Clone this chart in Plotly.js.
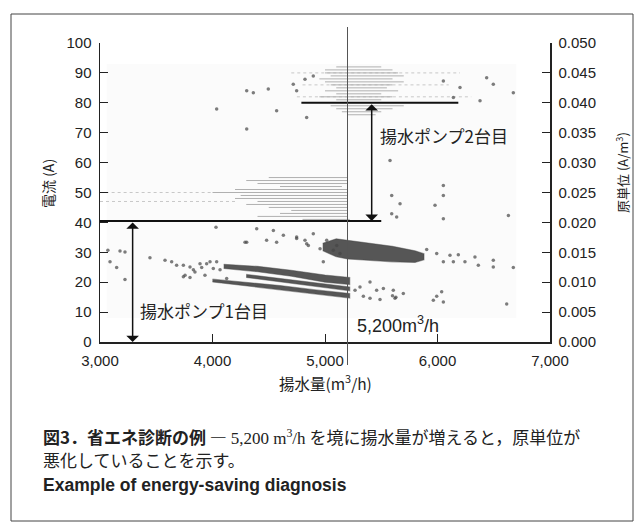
<!DOCTYPE html>
<html>
<head>
<meta charset="utf-8">
<script src="https://cdn.plot.ly/plotly-3.0.1.min.js"></script>
<style>
html,body{margin:0;padding:0;background:#fff;}
#chart{width:643px;height:530px;}
</style>
</head>
<body>
<div id="chart"></div>
<script>
// ---- data ----
// quantised current readings (light hatched rows), lower group (1 pump)
const stripeLowY     = [41, 42, 43, 44, 45, 46, 47, 48, 49, 50, 51, 52, 53, 54, 55];
const stripeLowStart = [4800, 4400, 4600, 4700, 4500, 4300, 4400, 4200, 4250, 4000, 4200, 4600, 4400, 4300, 4500];
const stripeLowEnd   = [5220, 5200, 5200, 5200, 5200, 5200, 5200, 5200, 5200, 5200, 5200, 5150, 5200, 5200, 5200];
// upper group (2 pumps)
const stripeHighY     = [76, 77, 78, 79, 81, 82, 83, 84, 85, 86, 87, 88, 89, 90, 91, 92];
const stripeHighStart = [5200, 5150, 5100, 5050, 5100, 4950, 5100, 5000, 5100, 5050, 5000, 4950, 5050, 5000, 5000, 5100];
const stripeHighEnd   = [5450, 5500, 5600, 5700, 5500, 5600, 5500, 5650, 5550, 5600, 5700, 5600, 5700, 5650, 5600, 5500];
// sparse (dotted) rows
const sparseRowY     = [47, 50, 82, 86, 90];
const sparseRowStart = [3000, 3050, 4750, 4800, 4700];
const sparseRowEnd   = [4200, 4000, 6300, 6100, 6200];

// dense specific-consumption bands (envelopes of the point clouds)
const bandTopX   = [4100, 4400, 4700, 5000, 5220];
const bandTopHi  = [26.0, 25.3, 24.0, 22.4, 21.6];
const bandTopLo  = [24.6, 23.5, 22.0, 20.0, 19.2];
const bandMidX   = [4300, 4600, 4900, 5220];
const bandMidHi  = [22.6, 21.3, 19.8, 18.4];
const bandMidLo  = [21.6, 20.2, 18.7, 17.1];
const bandBotX   = [4000, 4300, 4600, 4900, 5220];
const bandBotHi  = [21.0, 20.0, 18.9, 17.5, 16.2];
const bandBotLo  = [20.1, 18.9, 17.6, 16.1, 14.7];
const bandUpX    = [4980, 5100, 5200, 5400, 5600, 5800, 5880];
const bandUpHi   = [33.0, 34.5, 34.0, 33.0, 32.0, 30.5, 29.5];
const bandUpLo   = [30.5, 28.5, 27.8, 27.2, 26.8, 26.6, 27.5];

// individual scattered readings
const pointX = [3070,3178,3222,3089,3148,3222,3444,3578,3637,3681,3741,3800,3830,3904,3948,4037,4067,4126,4304,4393,4541,4570,4748,4822,4852,4896,4031,
  3741,3800,3844,3889,3933,3978,4007,3756,
  4630,4748,4837,4956,5015,5074,5104,5133,4985,4481,4289,
  5904,5993,6111,6185,6244,6333,6363,6496,6496,6674,6141,6052,
  5311,5400,5459,5519,5607,5622,5696,5400,5341,5489,5963,5993,6037,6052,6615,5267,5600,5630,
  5593,5593,5637,5978,6052,6052,6630,5667,6052,5578,
  4304,4363,4496,4570,4037,4304,4748,4837,4822,4896,4718,
  6674,6496,6378,6141,6052,6200,6437];
const pointY = [30.7,30.4,30.1,26.8,24.9,20.9,28.2,27.3,26.8,25.7,21.8,21.6,24.2,24.9,26.2,26.8,24.2,21.2,33.4,37.9,37.3,33.4,35.1,34.0,32.3,36.2,38.4,
  25.7,25.1,23.4,26.2,22.3,26.8,24.6,22.3,
  35.7,34.6,32.9,31.2,34.0,30.7,32.3,29.6,26.8,34.0,33.4,
  30.9,29.6,29.0,29.2,26.8,28.4,25.7,27.3,25.1,24.9,26.8,26.8,
  18.4,20.1,17.3,17.9,17.3,14.6,16.2,14.6,15.3,14.2,14.0,15.3,16.8,13.4,12.7,17.3,15.5,15.0,
  49.0,42.9,41.8,45.7,49.0,41.2,42.3,46.2,52.3,60.7,
  84.0,83.4,84.6,77.3,77.9,71.2,84.0,75.1,87.9,89.0,86.2,
  83.4,86.2,80.7,81.8,87.3,85.1,88.4];

// axis ticks
const leftTicks  = [0,10,20,30,40,50,60,70,80,90,100];
const rightTicks = [0,0.005,0.010,0.015,0.020,0.025,0.030,0.035,0.040,0.045,0.050];
const xTicks     = [3000,4000,5000,6000,7000];

// ---- build traces ----
function rows(ys, xs0, xs1) {
  const x = [], y = [];
  for (let i = 0; i < ys.length; i++) {
    x.push(xs0[i], xs1[i], null);
    y.push(ys[i], ys[i], null);
  }
  return {x, y};
}
function band(xs, hi, lo) {
  return {x: xs.concat(xs.slice().reverse()), y: hi.concat(lo.slice().reverse())};
}
const traces = [];
const sr = rows(sparseRowY, sparseRowStart, sparseRowEnd);
traces.push({x: sr.x, y: sr.y, mode: 'lines', line: {color: '#c8c8c8', width: 1, dash: 'dot'}, hoverinfo: 'skip', showlegend: false});
const lo = rows(stripeLowY, stripeLowStart, stripeLowEnd);
traces.push({x: lo.x, y: lo.y, mode: 'lines', line: {color: '#b0b0b0', width: 1}, hoverinfo: 'skip', showlegend: false});
const hi = rows(stripeHighY, stripeHighStart, stripeHighEnd);
traces.push({x: hi.x, y: hi.y, mode: 'lines', line: {color: '#b0b0b0', width: 1}, hoverinfo: 'skip', showlegend: false});
[[bandTopX, bandTopHi, bandTopLo], [bandMidX, bandMidHi, bandMidLo], [bandBotX, bandBotHi, bandBotLo], [bandUpX, bandUpHi, bandUpLo]].forEach(b => {
  const p = band(b[0], b[1], b[2]);
  traces.push({x: p.x, y: p.y, mode: 'lines', fill: 'toself', fillcolor: 'rgba(45,45,45,0.8)', line: {color: 'rgba(70,70,70,0.45)', width: 1.2}, hoverinfo: 'skip', showlegend: false});
});
traces.push({x: pointX, y: pointY, mode: 'markers', marker: {color: 'rgba(70,70,70,0.7)', size: 3.5}, hoverinfo: 'skip', showlegend: false});
traces.push({x: [3000], y: [0], yaxis: 'y2', mode: 'markers', marker: {opacity: 0}, hoverinfo: 'skip', showlegend: false});

// ---- layout ----
const L = 100, R = 550, T = 43, B = 342;
const px = p => (p - L) / (R - L);
const py = p => (B - p) / (B - T);
const tickFont = {family: 'Liberation Sans, Arial, sans-serif', size: 15, color: '#222'};
const jp = 'Noto Sans CJK JP, sans-serif';
const axCommon = {ticks: 'inside', ticklen: 8, tickcolor: '#222', tickwidth: 1, showline: true, linecolor: '#222', linewidth: 1.5,
  showgrid: false, zeroline: false, tickfont: tickFont, ticklabelstandoff: 4};

const layout = {
  width: 643, height: 530,
  margin: {l: L, r: 643 - R, t: T, b: 530 - B},
  paper_bgcolor: '#fff', plot_bgcolor: 'rgba(0,0,0,0)',
  showlegend: false,
  xaxis: Object.assign({range: [3000, 7000], tickvals: xTicks, ticktext: xTicks.map(v => v.toLocaleString('en-US'))}, axCommon),
  yaxis: Object.assign({range: [0, 100], tickvals: leftTicks}, axCommon),
  yaxis2: Object.assign({range: [0, 0.05], overlaying: 'y', side: 'right', tickvals: rightTicks, ticktext: rightTicks.map(v => v.toFixed(3))}, axCommon),
  shapes: [
    {type: 'rect', layer: 'below', xref: 'x', yref: 'y', x0: 3060, x1: 6700, y0: 8, y1: 93, fillcolor: '#fbfbfb', line: {width: 0}},
    {type: 'line', xref: 'x', yref: 'y', x0: 3000, x1: 5500, y0: 40.5, y1: 40.5, line: {color: '#111', width: 2}},
    {type: 'line', xref: 'x', yref: 'y', x0: 4790, x1: 6185, y0: 80, y1: 80, line: {color: '#111', width: 2}},
    {type: 'line', xref: 'x', yref: 'paper', x0: 5200, x1: 5200, y0: py(365), y1: py(27), line: {color: '#555', width: 1}},
    {type: 'rect', xref: 'paper', yref: 'paper', x0: px(11), x1: px(633), y0: py(521), y1: py(14), line: {color: '#444', width: 1}}
  ],
  annotations: [
    {x: 3290, y: 0, ax: 3290, ay: 40.5, axref: 'x', ayref: 'y', xref: 'x', yref: 'y', text: '', showarrow: true,
      arrowside: 'end+start', arrowhead: 1, arrowsize: 1.4, arrowwidth: 1.5, arrowcolor: '#111', standoff: 0, startstandoff: 0},
    {x: 5415, y: 40.5, ax: 5415, ay: 80, axref: 'x', ayref: 'y', xref: 'x', yref: 'y', text: '', showarrow: true,
      arrowside: 'end+start', arrowhead: 1, arrowsize: 1.4, arrowwidth: 1.5, arrowcolor: '#111', standoff: 0, startstandoff: 0},
    {x: 3338, y: 10.7, xref: 'x', yref: 'y', xanchor: 'left', yanchor: 'middle', showarrow: false,
      text: '揚水ポンプ1台目', font: {family: jp, size: 17, color: '#222'}},
    {x: 5471, y: 69, xref: 'x', yref: 'y', xanchor: 'left', yanchor: 'middle', showarrow: false,
      text: '揚水ポンプ2台目', font: {family: jp, size: 17, color: '#222'}},
    {x: 5267, y: 6, xref: 'x', yref: 'y', xanchor: 'left', yanchor: 'middle', showarrow: false,
      text: '5,200m<sup>3</sup>/h', font: {family: 'Liberation Sans, Arial, sans-serif', size: 18, color: '#222'}},
    {x: px(325), y: py(382), xref: 'paper', yref: 'paper', xanchor: 'center', yanchor: 'middle', showarrow: false,
      text: '揚水量(m<sup>3</sup>/h)', font: {family: jp, size: 15.5, color: '#222'}},
    {x: px(48), y: py(184), xref: 'paper', yref: 'paper', xanchor: 'center', yanchor: 'middle', showarrow: false, textangle: -90,
      text: '電流 (A)', font: {family: jp, size: 14, color: '#222'}},
    {x: px(622), y: py(173), xref: 'paper', yref: 'paper', xanchor: 'center', yanchor: 'middle', showarrow: false, textangle: -90,
      text: '原単位 (A/m<sup>3</sup>)', font: {family: jp, size: 13, color: '#222'}},
    {x: px(41), y: py(436), xref: 'paper', yref: 'paper', xanchor: 'left', yanchor: 'middle', showarrow: false, align: 'left',
      text: '<b>図3．省エネ診断の例</b> ― <span style="font-family:Liberation Serif">5,200 m<sup>3</sup>/h</span> を境に揚水量が増えると，原単位が',
      font: {family: jp, size: 17, color: '#222'}},
    {x: px(41), y: py(459), xref: 'paper', yref: 'paper', xanchor: 'left', yanchor: 'middle', showarrow: false, align: 'left',
      text: '悪化していることを示す。', font: {family: jp, size: 17, color: '#222'}},
    {x: px(41), y: py(485), xref: 'paper', yref: 'paper', xanchor: 'left', yanchor: 'middle', showarrow: false, align: 'left',
      text: '<b>Example of energy-saving diagnosis</b>', font: {family: 'Liberation Sans, Arial, sans-serif', size: 17.5, color: '#222'}}
  ]
};

Plotly.newPlot('chart', traces, layout, {staticPlot: true, displayModeBar: false});
</script>
</body>
</html>
